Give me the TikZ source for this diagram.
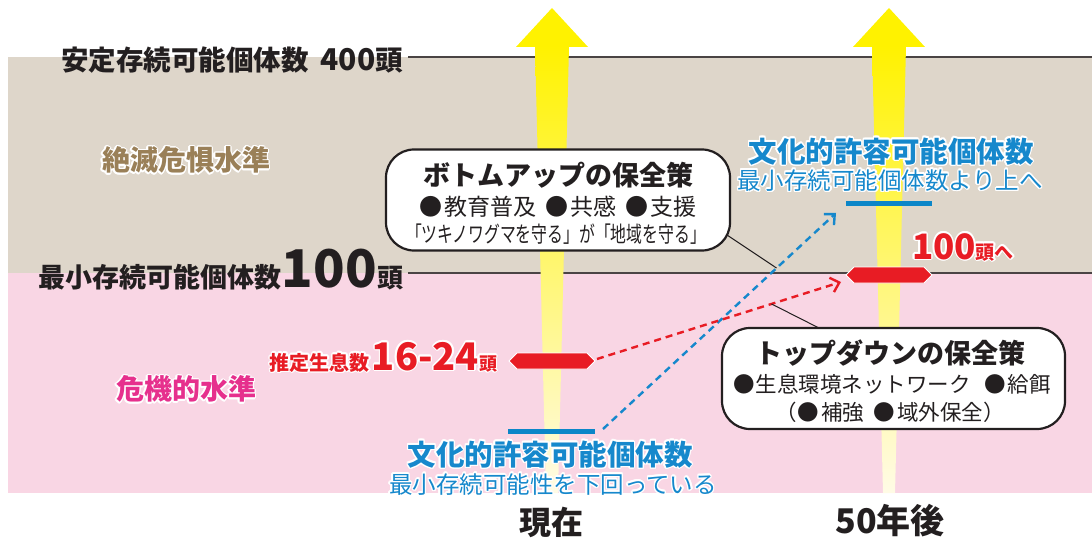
\documentclass[tikz,border=0pt]{standalone}
\usepackage{fontspec}
\setmainfont{Noto Sans CJK JP}
\usepackage{contour}
\contourlength{1.4pt}
\usetikzlibrary{arrows.meta,calc}
\definecolor{bandbeige}{HTML}{DED6CA}
\definecolor{bandpink}{HTML}{F9D6E4}
\definecolor{arrowyellow}{HTML}{FFF200}
\definecolor{shaftend}{HTML}{FFFBE6}
\definecolor{txtblack}{HTML}{231F20}
\definecolor{txtblue}{HTML}{1688CC}
\definecolor{barblue}{HTML}{0B86C8}
\definecolor{mkred}{HTML}{E81C24}
\definecolor{txtpink}{HTML}{E6308D}
\definecolor{txttan}{HTML}{9A8058}
\definecolor{linegray}{HTML}{4A4444}
\newcommand\halo[2]{{\color{#1}\contour{white}{#2}}}
\newcommand\fs[1]{\fontsize{#1}{#1}\selectfont}
\begin{document}
\begin{tikzpicture}[x=1pt,y=-1pt,
  every node/.style={inner sep=0pt,outer sep=0pt},
  lbl/.style={font=\bfseries\fs{27},text=txtblack},
  levelline/.style={draw=linegray,line width=1.5pt},
  shaft/.style={top color=arrowyellow,bottom color=shaftend},
  head/.style={fill=arrowyellow},
  marker/.style={fill=mkred,draw=white,line width=0.8pt},
  bar/.style={draw=barblue,line width=5pt},
  bluedash/.style={draw=txtblue,line width=2.4pt,dash pattern=on 7pt off 5pt,
     -{Straight Barb[length=8pt,width=15pt,line width=2.4pt]}},
  reddash/.style={draw=mkred,line width=2.4pt,dash pattern=on 7pt off 5pt,
     -{Straight Barb[length=8pt,width=15pt,line width=2.4pt]}},
  leader/.style={draw=txtblack,line width=1pt},
  policybox/.style={draw=txtblack,line width=2.2pt,fill=white,rounded corners=28pt,
     minimum width=344pt,minimum height=101pt},
  boxtitle/.style={font=\bfseries\fs{27},text=txtblack},
  boxline/.style={font=\fs{23},text=txtblack}]
\useasboundingbox (0,0) rectangle (1092,540);
% bands
\fill[bandbeige] (8,57) rectangle (1092,273);
\fill[bandpink] (8,273) rectangle (1092,493);
% level lines
\coordinate (l4a) at (408,57); \coordinate (l4b) at (1092,57);
\coordinate (l1a) at (408,273); \coordinate (l1b) at (1092,273);
\draw[levelline] (l4a) -- (l4b);
\draw[levelline] (l1a) -- (l1b);
% yellow arrows
\shade[shaft] (535,46) -- (569,46) -- (558,493) -- (546,493) -- cycle;
\fill[head] (516,47) -- (552,8) -- (588,47) -- cycle;
\shade[shaft] (872,46) -- (906,46) -- (895,493) -- (883,493) -- cycle;
\fill[head] (853,47) -- (889,8) -- (925,47) -- cycle;
% markers and bars
\coordinate (mL) at (552,361);
\coordinate (mR) at (889,275);
\coordinate (bL) at (552,431);
\coordinate (bR) at (889,204);
\path[marker] ($(mL)+(-43,0)$) -- ++(8,-8) -- ++(70,0) -- ++(8,8) -- ++(-8,8) -- ++(-70,0) -- cycle;
\path[marker] ($(mR)+(-43,0)$) -- ++(8,-8) -- ++(70,0) -- ++(8,8) -- ++(-8,8) -- ++(-70,0) -- cycle;
\draw[bar] ($(bL)+(-44,0)$) -- ($(bL)+(43,0)$);
\draw[bar] ($(bR)+(-43,0)$) -- ($(bR)+(43,0)$);
% dashed arrows
\coordinate (bs) at ($(bL)+(51,-2)$);
\coordinate (be) at ($(bR)+(-53,9)$);
\coordinate (rs) at ($(mL)+(45,-2)$);
\coordinate (re) at ($(mR)+(-48,7)$);
\draw[bluedash] (bs) -- (be);
\draw[reddash] (rs) -- (re);
% leaders and boxes
\coordinate (buLead) at ($(bs)!0.745!(be)$);
\coordinate (tdLead) at ($(rs)!0.715!(re)$);
\draw[leader] (727,235) -- (buLead);
\draw[leader] (818,327.5) -- (tdLead);
\node[policybox] (bu) at (558,200) {};
\node[policybox,minimum width=343pt] (td) at (893.5,378.5) {};
\node[boxtitle] (butitle) at (558,175) {ボトムアップの保全策};
\node[boxline] (bul2) at (558,207) {●\hspace{2pt}教育普及\hspace{9pt}●\hspace{2pt}共感\hspace{9pt}●\hspace{2pt}支援};
\node[boxline,font=\fs{22}] (bul3) at (556,234) {\scalebox{0.72}[1]{「ツキノワグマを守る」が「地域を守る」}};
\node[boxtitle] (tdtitle) at (890,353) {トップダウンの保全策};
\node[boxline,font=\fs{21.5}] (tdl2) at (892,384) {●\hspace{1pt}生息環境ネットワーク\hspace{14pt}●\hspace{1pt}給餌};
\node[boxline,font=\fs{21.5}] (tdl3) at (890,412) {（\hspace{1pt}●\hspace{2pt}補強\hspace{9pt}●\hspace{2pt}域外保全）};
% left labels
\node[lbl,font=\bfseries\fs{27.5},anchor=east] (l400) at (403,60) {安定存続可能個体数\hspace{12pt}{\fs{30}400}頭};
\node[lbl,anchor=base east] (l100) at (403,287) {最小存続可能個体数{\fs{52}100}{\fs{26}頭}};
\node[font=\bfseries\fs{28}] (zetsu) at (186,161) {\halo{txttan}{絶滅危惧水準}};
\node[font=\bfseries\fs{28}] (kiki) at (186,390) {\halo{txtpink}{危機的水準}};
\node[font=\bfseries,anchor=base east] (est) at (497,370) {\halo{mkred}{{\fs{20}推定生息数}\hspace{2pt}{\fs{38}16-24}{\fs{18}頭}}};
% blue labels
\node[font=\bfseries\fs{28.5}] (cbtitle) at (550,455) {\halo{txtblue}{文化的許容可能個体数}};
\node[font=\fs{23.5}] (cbsub) at (553,485) {\halo{txtblue}{最小存続可能性を下回っている}};
\node[font=\bfseries\fs{28.5}] (cttitle) at (891,152) {\halo{txtblue}{文化的許容可能個体数}};
\node[font=\fs{23.5}] (ctsub) at (890,181) {\halo{txtblue}{最小存続可能個体数より上へ}};
\node[font=\bfseries,anchor=base west] (to100) at (912,259) {\halo{mkred}{{\fs{35}100}{\fs{19}頭へ}}};
% time labels
\node[font=\bfseries\fs{32},text=txtblack] (now) at (551,522) {現在};
\node[font=\bfseries\fs{34},text=txtblack] (later) at (890,521) {50年後};
\end{tikzpicture}
\end{document}
